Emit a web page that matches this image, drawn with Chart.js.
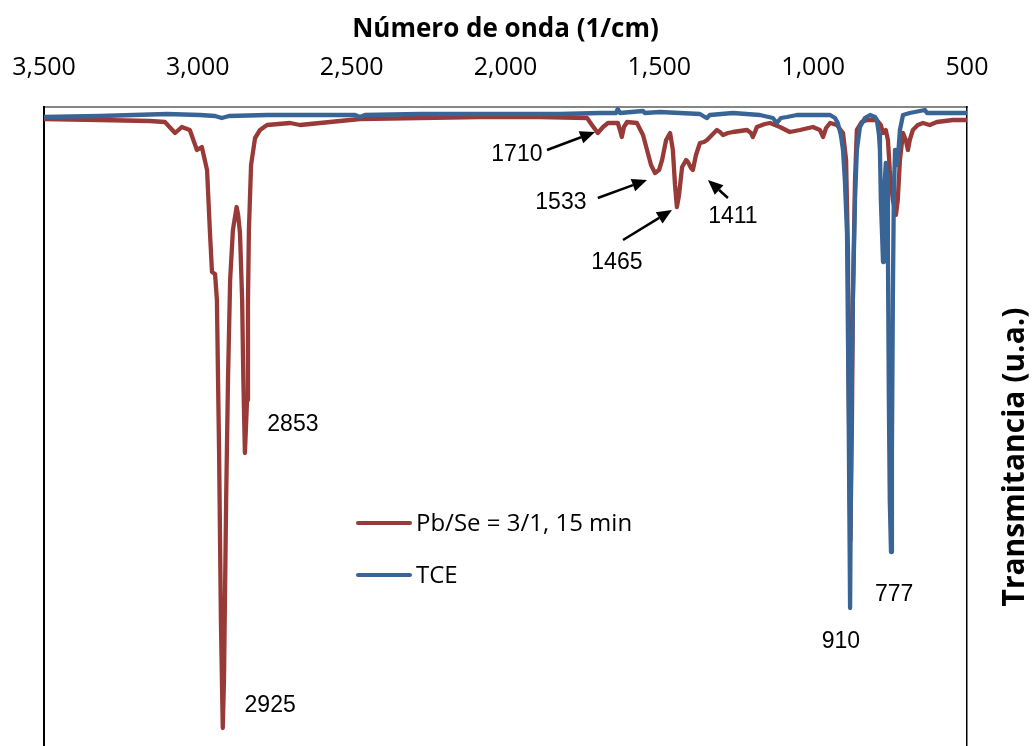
<!DOCTYPE html>
<html><head><meta charset="utf-8">
<script src="https://cdn.jsdelivr.net/npm/chart.js@4.4.0/dist/chart.umd.min.js"></script>
<style>html,body{margin:0;padding:0;background:#fff;overflow:hidden}canvas{display:block}</style>
</head><body><canvas id="c" width="1034" height="746"></canvas>
<script>
// ---- data ----
const seriesNames = ['Pb/Se = 3/1, 15 min', 'TCE'];
const xTicks = [3500, 3000, 2500, 2000, 1500, 1000, 500];
const xTitle = 'Número de onda (1/cm)';
const yTitle = 'Transmitancia (u.a.)';

const pbseWavenumber = [3500,3318,3156,3107,3074,3052,3026,3003,2987,2970,2961,2954,2944,2938,2931,2925,2919,2915,2908,2902,2895,2886,2874,2869,2863,2856,2852,2847,2840,2837,2834,2827,2814,2798,2775,2700,2668,2570,2473,2278,2083,1888,1735,1719,1700,1683,1667,1635,1628,1622,1615,1605,1573,1553,1540,1527,1514,1501,1491,1478,1465,1456,1449,1443,1436,1426,1413,1407,1397,1391,1381,1368,1355,1345,1329,1313,1303,1293,1277,1261,1238,1215,1202,1196,1189,1183,1157,1140,1108,1076,1043,1001,978,968,958,945,923,903,893,887,884,879,874,871,864,858,842,825,793,780,773,764,757,751,741,731,725,718,708,699,692,686,676,660,643,621,598,546,500];
const pbseTransmittance = [62.7,62.6,62.5,62.4,61.3,61.9,61.6,59.6,59.9,57.6,51.6,47.4,47.2,44.6,29.6,12.6,1.8,6.6,24.6,36.6,46.6,51.6,53.9,53.1,51.3,44.6,36.6,29.3,34.6,44.6,51.6,58.1,60.8,61.6,62.1,62.3,62.1,62.4,62.7,62.8,62.9,62.9,62.8,62.1,61.3,61.9,62.3,62.3,61.6,60.9,61.9,62.4,62.3,61.1,59.6,58.1,57.3,57.6,58.6,60.6,61.3,59.6,56.1,53.9,55.1,57.9,58.6,58.4,57.8,57.6,59.1,60.3,60.4,60.6,61.1,61.6,61.4,61.1,61.3,61.4,61.5,61.6,61.3,60.9,61.4,61.9,62.2,62.3,61.9,61.4,61.6,61.9,61.6,60.9,61.8,62.3,62.1,61.3,58.6,49.6,34.6,20.6,32.6,44.6,56.6,61.6,62.4,62.6,62.6,62.1,61.3,61.6,60.6,57.6,54.6,53.1,54.6,58.6,61.3,60.6,59.6,60.6,61.6,62.1,62.3,62.1,62.4,62.6,62.6];

const tceWavenumber = [3500,3318,3100,2993,2944,2922,2899,2775,2570,2489,2473,2457,2278,2018,1823,1693,1641,1635,1628,1553,1547,1498,1368,1352,1345,1336,1261,1173,1131,1118,1105,1085,1053,945,929,920,910,903,897,890,885,880,876,871,864,858,848,832,815,799,793,786,783,780,776,773,770,767,764,760,757,754,751,747,744,741,738,734,731,728,725,718,708,686,637,630,565,500];
const tceTransmittance = [62.9,63.0,63.2,63.1,63.0,62.8,63.0,63.1,63.1,63.1,62.9,63.1,63.2,63.2,63.2,63.3,63.3,63.7,63.3,63.5,63.3,63.4,63.2,62.9,62.8,63.1,63.3,63.1,62.8,62.3,62.8,62.9,63.1,63.1,62.8,62.3,61.1,59.6,56.6,51.3,34.6,13.8,32.6,44.6,54.6,59.6,61.9,62.8,63.1,62.9,62.6,61.1,59.6,54.6,51.1,48.4,52.6,56.6,58.3,57.1,49.6,34.6,24.6,19.4,29.6,44.6,54.6,59.6,59.1,58.1,58.6,61.6,63.1,63.3,63.6,63.3,63.3,63.3];

const peakLabels = ['2925','2853','1710','1533','1465','1411','910','777'];

// ---- annotation layout (data coordinates) ----
const labelAnchors = {
  '2925': [2765, 4.0], '2853': [2691, 32.1], '1710': [1963, 59.1], '1533': [1820, 54.3],
  '1465': [1638, 48.3], '1411': [1261, 52.9], '910': [910, 10.4], '777': [737, 15.1]
};
const arrowAnchors = {
  '1710': [[1865, 59.6], [1709, 61.4]],
  '1533': [[1700, 54.8], [1540, 56.6]],
  '1465': [[1618, 50.6], [1459, 53.6]],
  '1411': [[1277, 54.8], [1342, 56.6]]
};

const RED = '#983a37', BLUE = '#386596';
const toPts = (xs, ys) => xs.map((x, i) => ({x, y: ys[i]}));

const annotatePlugin = {
  id: 'annotate',
  afterDatasetsDraw(chart) {
    const {ctx, scales: {x, y}} = chart;
    ctx.save();
    ctx.fillStyle = '#000';
    ctx.font = '23px "Liberation Sans", Arial, sans-serif';
    ctx.textAlign = 'center';
    ctx.textBaseline = 'middle';
    peakLabels.forEach(t => {
      const a = labelAnchors[t];
      ctx.fillText(t, x.getPixelForValue(a[0]), y.getPixelForValue(a[1]));
    });
    ctx.strokeStyle = '#000';
    ctx.lineWidth = 2.5;
    Object.values(arrowAnchors).forEach(([f, to]) => {
      const x0 = x.getPixelForValue(f[0]), y0 = y.getPixelForValue(f[1]);
      const x1 = x.getPixelForValue(to[0]), y1 = y.getPixelForValue(to[1]);
      const ang = Math.atan2(y1 - y0, x1 - x0);
      const L = 15, W = 6.5;
      const bx = x1 - L * Math.cos(ang), by = y1 - L * Math.sin(ang);
      ctx.beginPath(); ctx.moveTo(x0, y0); ctx.lineTo(bx, by); ctx.stroke();
      ctx.beginPath();
      ctx.moveTo(x1, y1);
      ctx.lineTo(bx + W * Math.sin(ang), by - W * Math.cos(ang));
      ctx.lineTo(bx - W * Math.sin(ang), by + W * Math.cos(ang));
      ctx.closePath(); ctx.fill();
    });
    // legend
    const rows = [[RED, seriesNames[0], 523], [BLUE, seriesNames[1], 575]];
    ctx.textAlign = 'left';
    ctx.font = '24px "Open Sans", sans-serif';
    ctx.lineCap = 'round';
    rows.forEach(([c, t, yy]) => {
      ctx.strokeStyle = c; ctx.lineWidth = 4;
      ctx.beginPath(); ctx.moveTo(358, yy); ctx.lineTo(410, yy); ctx.stroke();
      ctx.fillStyle = '#000';
      ctx.fillText(t, 416, yy + 1);
    });
    // y title
    ctx.save();
    ctx.translate(1015, 457);
    ctx.rotate(-Math.PI / 2);
    ctx.textAlign = 'center';
    ctx.font = 'bold 30px "Open Sans", sans-serif';
    ctx.fillText(yTitle, 0, 0);
    ctx.restore();
    ctx.restore();
  }
};

new Chart(document.getElementById('c'), {
  type: 'line',
  data: {
    datasets: [
      {label: seriesNames[0], data: toPts(pbseWavenumber, pbseTransmittance), borderColor: RED, borderWidth: 4.3, pointRadius: 0, tension: 0, order: 1, borderJoinStyle: 'round', borderCapStyle: 'round', yAxisID: 'y'},
      {label: seriesNames[1], data: toPts(tceWavenumber, tceTransmittance), borderColor: BLUE, borderWidth: 4.3, pointRadius: 0, tension: 0, order: 0, borderJoinStyle: 'round', borderCapStyle: 'round', yAxisID: 'y'}
    ]
  },
  options: {
    responsive: false,
    animation: false,
    layout: {padding: {left: 44, right: 0, top: 0, bottom: 0}},
    plugins: {legend: {display: false}, tooltip: {enabled: false}},
    scales: {
      x: {
        type: 'linear', position: 'top', reverse: true, min: 500, max: 3500,
        afterBuildTicks: s => { s.ticks = xTicks.map(v => ({value: v})); },
        ticks: {autoSkip: false, maxRotation: 0, padding: 24, color: '#000',
                font: {family: '"Open Sans", sans-serif', size: 25},
                callback: v => Number(v).toLocaleString('en-US')},
        grid: {display: false, drawTicks: false},
        border: {display: true, color: '#868686', width: 2},
        title: {display: true, text: xTitle, color: '#000', padding: {top: 14, bottom: 0},
                font: {family: '"Open Sans", sans-serif', size: 26, weight: 'bold'}},
        afterFit: s => { s.height = 107; s.paddingLeft = 0; s.paddingRight = 0; }
      },
      y: {
        position: 'left', min: 0, max: 63.9,
        ticks: {display: false}, grid: {display: false, drawTicks: false},
        border: {display: true, color: '#000', width: 2},
        afterFit: s => { s.width = 0; }
      },
      y2: {
        position: 'right', min: 0, max: 63.9,
        ticks: {display: false}, grid: {display: false, drawTicks: false},
        border: {display: true, color: '#000', width: 1.5},
        afterFit: s => { s.width = 67; }
      }
    }
  },
  plugins: [annotatePlugin]
});
</script>
</body></html>
